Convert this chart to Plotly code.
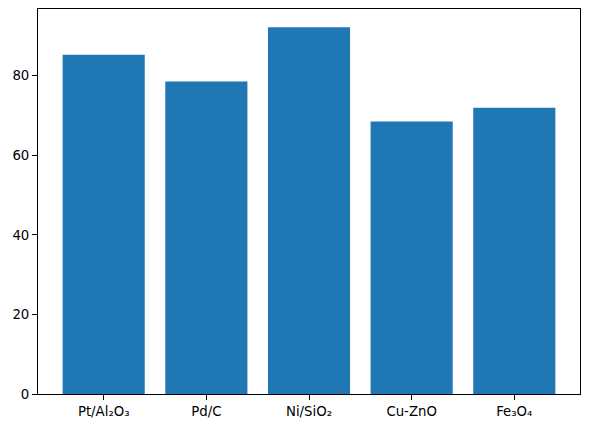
import plotly.graph_objects as go

# 催化剂及其数值
catalysts = ['Pt/Al₂O₃', 'Pd/C', 'Ni/SiO₂', 'Cu-ZnO', 'Fe₃O₄']
values = [85.3, 78.6, 92.2, 68.5, 72.0]

fig = go.Figure(data=[go.Bar(
    x=list(range(len(catalysts))),
    y=values,
    width=0.8,
    marker_color='#1f77b4',
    marker_line_width=0
)])

axis_style = dict(
    showline=True,
    linecolor='black',
    linewidth=1,
    mirror=True,
    ticks='outside',
    ticklen=5,
    tickcolor='black',
    showgrid=False,
    zeroline=False,
    automargin=False,
    tickfont=dict(family='DejaVu Sans', size=13.3, color='black'),
)

fig.update_xaxes(
    range=[-0.64, 4.64],
    tickmode='array',
    tickvals=list(range(len(catalysts))),
    ticktext=catalysts,
    **axis_style
)
fig.update_yaxes(
    range=[0, 96.8],
    tickmode='linear',
    tick0=0,
    dtick=20,
    **axis_style
)

fig.update_layout(
    width=589,
    height=428,
    margin=dict(l=38, r=9, t=9, b=34),
    plot_bgcolor='white',
    paper_bgcolor='white',
    showlegend=False,
)

# 去掉页面默认边距，隐藏工具栏
fig.write_html(
    "out.html",
    config={'displayModeBar': False},
    post_script="document.body.style.margin='0';"
)
